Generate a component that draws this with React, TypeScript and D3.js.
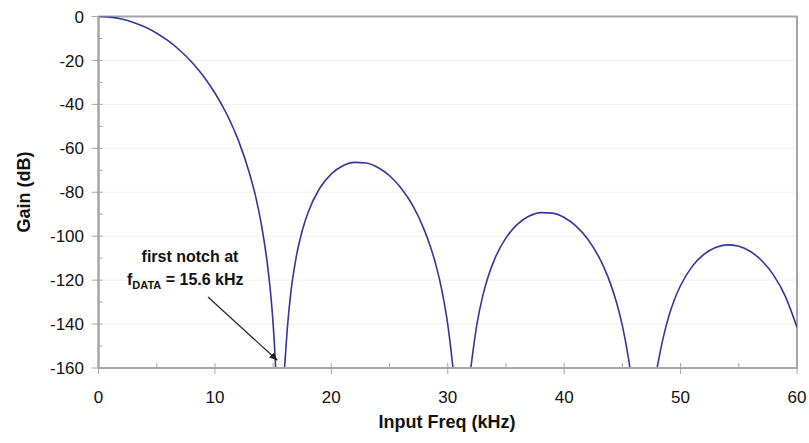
import React from "react";
import * as d3 from "d3";

const lobe1Freq = [0, 1, 2, 3, 4, 5, 6, 7, 8, 9, 10, 11, 12, 13, 13.5, 14, 14.5, 14.8, 15, 15.1, 15.22];
const lobe1Gain = [0, -0.29, -1.18, -2.68, -4.8, -7.6, -11.14, -15.48, -20.75, -27.11, -34.82, -44.26, -56.16, -71.9, -82.0, -94.94, -112.4, -126.96, -139.9, -148.0, -160];
const lobe2Freq = [15.98, 16.2, 16.5, 17, 17.5, 18, 19, 20, 21, 22, 23, 24, 25, 26, 27, 28, 28.5, 29, 29.5, 30, 30.3, 30.45];
const lobe2Gain = [-160, -143.2, -126.56, -109.01, -97.49, -89.21, -78.18, -71.61, -67.91, -66.39, -66.72, -68.74, -72.49, -78.15, -86.12, -97.37, -104.61, -113.41, -124.76, -140.18, -152.9, -160];
const lobe3Freq = [31.98, 32.5, 33, 33.5, 34, 35, 36, 37, 38, 39, 40, 41, 42, 43, 43.5, 44, 44.5, 45, 45.5, 45.65];
const lobe3Gain = [-160, -140.29, -127.28, -117.9, -110.76, -100.75, -94.5, -90.84, -89.27, -89.51, -91.49, -95.29, -101.17, -109.69, -115.23, -121.94, -130.22, -140.73, -154.87, -160];
const lobe4Freq = [47.98, 48.5, 49, 49.5, 50, 51, 52, 53, 54, 55, 56, 57, 58, 59, 60];
const lobe4Gain = [-160, -146.38, -136.21, -128.49, -122.44, -113.75, -108.25, -105.13, -103.96, -104.58, -106.97, -111.28, -117.84, -127.38, -141.48];

const xTicks = [0, 10, 20, 30, 40, 50, 60];
const xMinorTicks = [5, 15, 25, 35, 45, 55];
const yTicks = [0, -20, -40, -60, -80, -100, -120, -140, -160];
const yMinorTicks = [-10, -30, -50, -70, -90, -110, -130, -150];

const FONT = "'Liberation Sans', Arial, sans-serif";

export default function App() {
  const W = 809;
  const H = 443;
  const x = d3.scaleLinear().domain([0, 60]).range([98.5, 797]);
  const y = d3.scaleLinear().domain([-160, 0]).range([368, 16.5]);

  const lobes = [
    [lobe1Freq, lobe1Gain],
    [lobe2Freq, lobe2Gain],
    [lobe3Freq, lobe3Gain],
    [lobe4Freq, lobe4Gain],
  ];
  const line = d3
    .line<[number, number]>()
    .x((d) => x(d[0]))
    .y((d) => y(d[1]))
    .curve(d3.curveMonotoneX);

  const axisColor = "#a6a6a6";
  const x0 = x(0);
  const y0 = y(-160);

  return (
    <svg width={W} height={H} style={{ position: "absolute", left: 0, top: 0, background: "#fff" }} fontFamily={FONT}>
      <defs>
        <clipPath id="plotClip">
          <rect x={x(0)} y={y(0)} width={x(60) - x(0)} height={y(-160) - y(0)} />
        </clipPath>
        <marker id="arrowHead" viewBox="0 0 10 10" refX="9" refY="5" markerWidth="7" markerHeight="7" orient="auto">
          <path d="M0,1 L10,5 L0,9 z" fill="#222" />
        </marker>
      </defs>
      {/* gridlines */}
      {yTicks.slice(1, -1).map((t) => (
        <line key={"g" + t} x1={x(0)} x2={x(60)} y1={y(t)} y2={y(t)} stroke="#efefef" strokeWidth={1} />
      ))}
      {/* plot border */}
      <rect x={x(0)} y={y(0)} width={x(60) - x(0)} height={y(-160) - y(0)} fill="none" stroke={axisColor} strokeWidth={2} />
      {/* y ticks */}
      {yTicks.map((t) => (
        <line key={"yt" + t} x1={x0 - 7} x2={x0 + 4} y1={y(t)} y2={y(t)} stroke={axisColor} strokeWidth={1} />
      ))}
      {yMinorTicks.map((t) => (
        <line key={"ym" + t} x1={x0} x2={x0 + 4} y1={y(t)} y2={y(t)} stroke={axisColor} strokeWidth={1} />
      ))}
      {yTicks.map((t) => (
        <text key={"yl" + t} x={84} y={y(t)} dy="0.36em" textAnchor="end" fontSize={17} fill="#111">
          {t}
        </text>
      ))}
      {/* x ticks */}
      {xTicks.map((t) => (
        <line key={"xt" + t} x1={x(t)} x2={x(t)} y1={y0 - 5} y2={y0 + 6} stroke={axisColor} strokeWidth={1} />
      ))}
      {xMinorTicks.map((t) => (
        <line key={"xm" + t} x1={x(t)} x2={x(t)} y1={y0 - 5} y2={y0} stroke={axisColor} strokeWidth={1} />
      ))}
      {xTicks.map((t) => (
        <text key={"xl" + t} x={x(t)} y={403} textAnchor="middle" fontSize={17} fill="#111">
          {t}
        </text>
      ))}
      {/* curve */}
      <g clipPath="url(#plotClip)">
        {lobes.map(([fs, gs], i) => (
          <path
            key={"lobe" + i}
            d={line(fs.map((f, j) => [f, gs[j]] as [number, number])) || ""}
            fill="none"
            stroke="#3535a0"
            strokeWidth={1.6}
          />
        ))}
      </g>
      {/* redraw axis lines on top */}
      <line x1={x0} x2={x0} y1={y(0)} y2={y0} stroke={axisColor} strokeWidth={2} />
      <line x1={x0} x2={x(60)} y1={y0} y2={y0} stroke={axisColor} strokeWidth={2} />
      {/* annotation */}
      <text x={190} y={262} textAnchor="middle" fontSize={16} fontWeight="bold" fill="#111">
        first notch at
      </text>
      <text x={127} y={285} fontSize={16} fontWeight="bold" fill="#111">
        f
        <tspan fontSize={11} dy={4}>DATA</tspan>
        <tspan dy={-4}> = 15.6 kHz</tspan>
      </text>
      <line x1={208} y1={297} x2={277} y2={360} stroke="#222" strokeWidth={1.2} markerEnd="url(#arrowHead)" />
      {/* axis titles */}
      <text x={447} y={428} textAnchor="middle" fontSize={18} fontWeight="bold" fill="#111">
        Input Freq (kHz)
      </text>
      <text transform="translate(30,192) rotate(-90)" textAnchor="middle" fontSize={18} fontWeight="bold" fill="#111">
        Gain (dB)
      </text>
    </svg>
  );
}
